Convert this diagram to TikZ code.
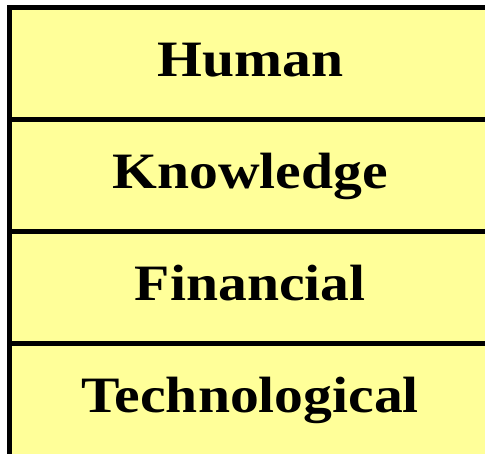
\documentclass[tikz,border=0pt]{standalone}
\usepackage{fontspec}
\setmainfont{Liberation Serif}[FakeStretch=1.13]
\definecolor{cellyellow}{HTML}{FFFF99}
\begin{document}
\begin{tikzpicture}[x=1pt,y=1pt,
  rowbox/.style={rectangle, draw=black, line width=5pt, fill=cellyellow,
    minimum width=481.5pt, minimum height=112pt, inner sep=0pt,
    text height=36pt, text depth=10pt,
    font=\fontsize{51}{60}\selectfont\bfseries}]
\useasboundingbox (0,0) rectangle (485,-454);
\clip (0,0) rectangle (485,-454);
\node[rowbox] (human) at (250.25,-64) {Human};
\node[rowbox] (knowledge) at (250.25,-176) {Knowledge};
\node[rowbox] (financial) at (250.25,-288) {Financial};
\node[rowbox] (tech) at (250.25,-400) {Technological};
\end{tikzpicture}
\end{document}
